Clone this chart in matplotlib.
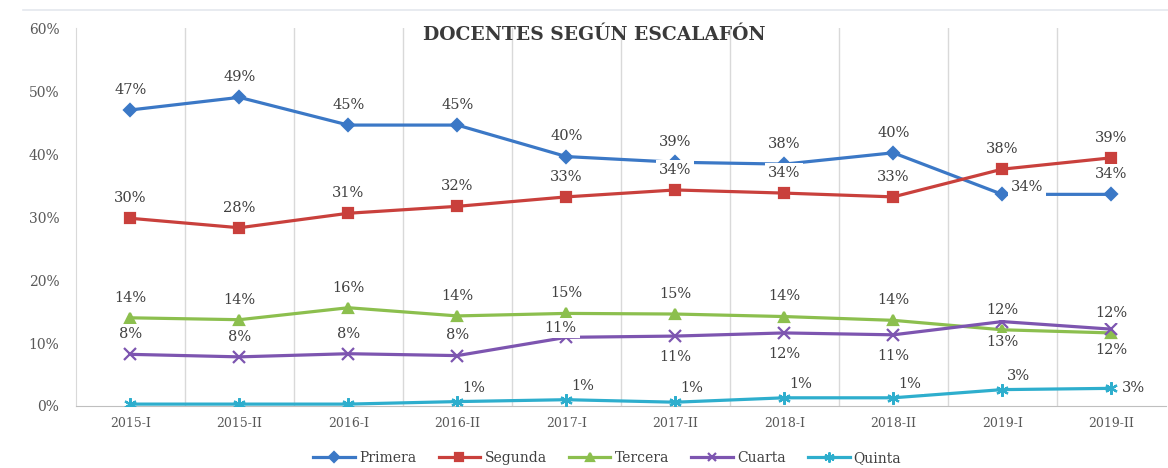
import matplotlib
matplotlib.use("Agg")
import matplotlib.pyplot as plt
from matplotlib.lines import Line2D

# Data (percent)
periodos = ['2015-I', '2015-II', '2016-I', '2016-II', '2017-I',
            '2017-II', '2018-I', '2018-II', '2019-I', '2019-II']
primera = [47.0, 49.0, 44.6, 44.6, 39.6, 38.7, 38.4, 40.2, 33.6, 33.6]
segunda = [29.8, 28.3, 30.6, 31.7, 33.2, 34.3, 33.8, 33.2, 37.6, 39.4]
tercera = [14.0, 13.7, 15.6, 14.3, 14.7, 14.6, 14.2, 13.6, 12.1, 11.6]
cuarta = [8.2, 7.8, 8.3, 8.0, 10.9, 11.1, 11.6, 11.3, 13.4, 12.2]
quinta = [0.3, 0.3, 0.3, 0.7, 1.0, 0.6, 1.3, 1.3, 2.6, 2.8]

# label placement per point (offset in points), None = no label
up = (0, 14.5)
down = (0, -15)
ur = (12, 10)
right = (16, 0)
lab_primera = [up] * 8 + [(18, 5), (0, 15)]
lab_segunda = [up] * 10
lab_tercera = [up] * 10
lab_cuarta = [up] * 4 + [(-4, 7)] + [down] * 5
lab_quinta = [None, None, None, ur, ur, ur, ur, ur, ur, right]

series = [
    ('Primera', primera, '#3b78c6', 'D', 6, lab_primera),
    ('Segunda', segunda, '#c9403c', 's', 6.5, lab_segunda),
    ('Tercera', tercera, '#8cbf4e', '^', 7, lab_tercera),
    ('Cuarta', cuarta, '#7d55b0', 'x', 8, lab_cuarta),
    ('Quinta', quinta, '#2eaecd', (6, 2, 0), 9, lab_quinta),
]

fig = plt.figure(figsize=(11.68, 4.68), dpi=100)
ax = fig.add_axes([0.065, 0.1325, 0.933, 0.8075])

x = list(range(len(periodos)))
for name, vals, col, mk, ms, labs in series:
    ax.plot(x, vals, color=col, lw=2.3, marker=mk, markersize=ms,
            markeredgewidth=1.6, markeredgecolor=col, label=name, zorder=3)
    for xi, v, off in zip(x, vals, labs):
        if off is None:
            continue
        ax.annotate(f'{v:.0f}%', (xi, v), xytext=off, textcoords='offset points',
                    ha='center', va='center', fontsize=10.5, color='#404040',
                    family='DejaVu Serif', zorder=5,
                    bbox=dict(boxstyle='square,pad=0.2', fc='white', ec='none'))

ax.set_xlim(-0.5, len(periodos) - 0.5)
ax.set_ylim(0, 60)
ax.set_yticks(range(0, 61, 10))
ax.set_yticklabels([f'{t}%' for t in range(0, 61, 10)], family='DejaVu Serif',
                   fontsize=10, color='#595959')
ax.set_xticks(x)
ax.set_xticklabels(periodos, family='DejaVu Serif', fontsize=9, color='#595959')
ax.tick_params(axis='y', length=0, pad=12)
ax.tick_params(axis='x', length=0, pad=8)
for b in [i + 0.5 for i in range(len(periodos) - 1)]:
    ax.axvline(b, color='#d9d9d9', lw=1, zorder=1)
for s in ['top', 'right']:
    ax.spines[s].set_visible(False)
ax.spines['left'].set_color('#d9d9d9')
ax.spines['bottom'].set_color('#bfbfbf')

fig.text(0.509, 0.925, 'DOCENTES SEGÚN ESCALAFÓN', ha='center', va='center',
         fontsize=13.5, fontweight='bold', family='DejaVu Serif', color='#3a3a3a')
fig.add_artist(Line2D([0.02, 1.0], [0.978, 0.978], color='#e4e8ee', lw=1.2))

fig.legend(loc='lower center', bbox_to_anchor=(0.52, -0.02), ncol=5, frameon=False,
           prop={'family': 'DejaVu Serif', 'size': 10}, handlelength=3,
           columnspacing=1.6, handletextpad=0.3, labelcolor='#404040',
           markerscale=0.8)

fig.savefig('out.png', dpi=100)
